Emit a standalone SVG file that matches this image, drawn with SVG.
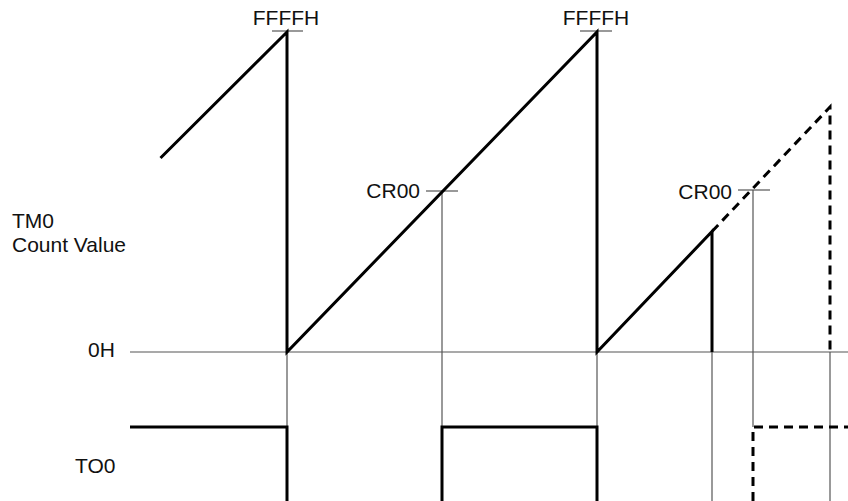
<svg xmlns="http://www.w3.org/2000/svg" width="848" height="501" viewBox="0 0 848 501">
<style>
text{font-family:"Liberation Sans",Arial,sans-serif;font-size:21px;fill:#111}
.thin{stroke:#555;stroke-width:1.2;fill:none}
.thick{stroke:#000;stroke-width:3;fill:none;stroke-linejoin:miter}
.dash{stroke:#000;stroke-width:3;fill:none;stroke-dasharray:9,6}
</style>
<rect width="848" height="501" fill="#fff"/>
<g id="labels">
<text x="12" y="228">TM0</text>
<text x="12" y="252">Count Value</text>
<text x="88" y="357">0H</text>
<text x="75" y="473">TO0</text>
<text x="286" y="25" text-anchor="middle">FFFFH</text>
<text x="596" y="25" text-anchor="middle">FFFFH</text>
<text x="420" y="198" text-anchor="end">CR00</text>
<text x="732" y="199" text-anchor="end">CR00</text>
</g>
<g id="connectors">
<line class="thin" x1="130" y1="352" x2="848" y2="352"/>
<line class="thin" x1="272" y1="31" x2="303" y2="31"/>
<line class="thin" x1="580" y1="31" x2="612" y2="31"/>
<line class="thin" x1="426" y1="191" x2="458" y2="191"/>
<line class="thin" x1="738" y1="190" x2="770" y2="190"/>
<line class="thin" x1="442" y1="191" x2="442" y2="427"/>
<line class="thin" x1="753" y1="190" x2="753" y2="427"/>
<line class="thin" x1="287" y1="352" x2="287" y2="427"/>
<line class="thin" x1="597" y1="352" x2="597" y2="427"/>
<line class="thin" x1="712" y1="352" x2="712" y2="501"/>
<line class="thin" x1="830" y1="352" x2="830" y2="501"/>
</g>
<g id="tm0-count">
<polyline class="thick" points="160.5,158 287,32 287,352 597,32 597,352 712,231.5 712,352"/>
<polyline class="dash" points="712,231.5 830,107 830,352"/>
</g>
<g id="to0">
<polyline class="thick" points="130,427 287,427 287,501"/>
<polyline class="thick" points="442,501 442,427 597,427 597,501"/>
<polyline class="dash" points="753,501 753,427 848,427"/>
</g>
</svg>
